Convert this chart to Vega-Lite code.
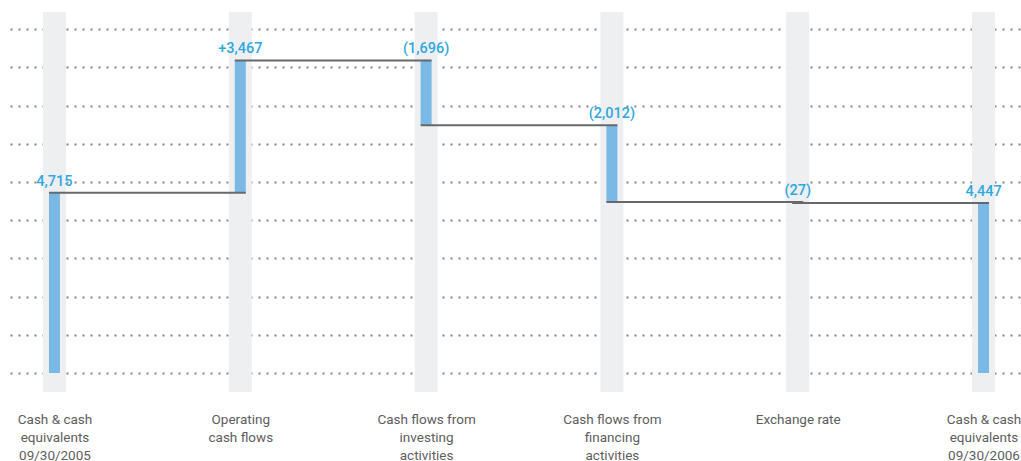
{
  "$schema": "https://vega.github.io/schema/vega-lite/v6.json",
  "width": 1011,
  "height": 380,
  "autosize": {"type": "none"},
  "padding": {"left": 10, "top": 12, "right": 0, "bottom": 69},
  "background": "white",
  "config": {"view": {"stroke": null}, "font": "Roboto"},
  "data": {
    "values": [
      {"step": "Cash & cash\nequivalents\n09/30/2005", "next": "Operating\ncash flows", "low": 0, "high": 4715, "end": 4715, "label": "4,715"},
      {"step": "Operating\ncash flows", "next": "Cash flows from\ninvesting\nactivities", "low": 4715, "high": 8182, "end": 8182, "label": "+3,467"},
      {"step": "Cash flows from\ninvesting\nactivities", "next": "Cash flows from\nfinancing\nactivities", "low": 6486, "high": 8182, "end": 6486, "label": "(1,696)"},
      {"step": "Cash flows from\nfinancing\nactivities", "next": "Exchange rate", "low": 4474, "high": 6486, "end": 4474, "label": "(2,012)"},
      {"step": "Exchange rate", "next": "Cash & cash\nequivalents\n09/30/2006", "low": 4447, "high": 4474, "end": 4447, "label": "(27)"},
      {"step": "Cash & cash\nequivalents\n09/30/2006", "next": null, "low": 0, "high": 4447, "end": 4447, "label": "4,447"}
    ]
  },
  "encoding": {
    "x": {
      "field": "step",
      "type": "nominal",
      "sort": null,
      "scale": {"type": "point", "padding": 0.2205, "align": 0.5427},
      "axis": {
        "title": null,
        "domain": false,
        "ticks": false,
        "grid": false,
        "labelExpr": "split(datum.label, '\\n')",
        "labelFont": "Roboto",
        "labelFontSize": 13.5,
        "labelColor": "#5e5e5e",
        "labelLineHeight": 18,
        "labelPadding": 20,
        "labelAngle": 0,
        "labelAlign": "center",
        "labelBaseline": "top",
        "labelOverlap": false,
        "labelBound": false,
        "labelFlush": false
      }
    }
  },
  "layer": [
    {
      "mark": {"type": "bar", "width": 23, "color": "#eeeff1"},
      "encoding": {
        "y": {
          "datum": 9450,
          "type": "quantitative",
          "scale": {"domain": [-500, 9450], "nice": false, "zero": false},
          "axis": {
            "title": null,
            "domain": false,
            "ticks": false,
            "labels": false,
            "grid": true,
            "values": [0, 1000, 2000, 3000, 4000, 5000, 6000, 7000, 8000, 9000],
            "gridDash": [2, 6],
            "gridColor": "#858585",
            "gridWidth": 2
          }
        },
        "y2": {"datum": -500}
      }
    },
    {
      "mark": {"type": "bar", "width": 11, "color": "#7ab9e5"},
      "encoding": {
        "y": {"field": "low", "type": "quantitative"},
        "y2": {"field": "high"}
      }
    },
    {
      "transform": [{"filter": "datum.next != null"}],
      "mark": {"type": "rule", "color": "#67686b", "strokeWidth": 2, "xOffset": -5.5, "x2Offset": 5.5},
      "encoding": {
        "x2": {"field": "next"},
        "y": {"field": "end", "type": "quantitative"}
      }
    },
    {
      "mark": {"type": "text", "color": "#2ea8e0", "fontSize": 14.5, "fontWeight": 500, "font": "Roboto", "baseline": "alphabetic", "align": "center", "dy": -7},
      "encoding": {
        "y": {"field": "high", "type": "quantitative"},
        "text": {"field": "label"}
      }
    }
  ]
}
